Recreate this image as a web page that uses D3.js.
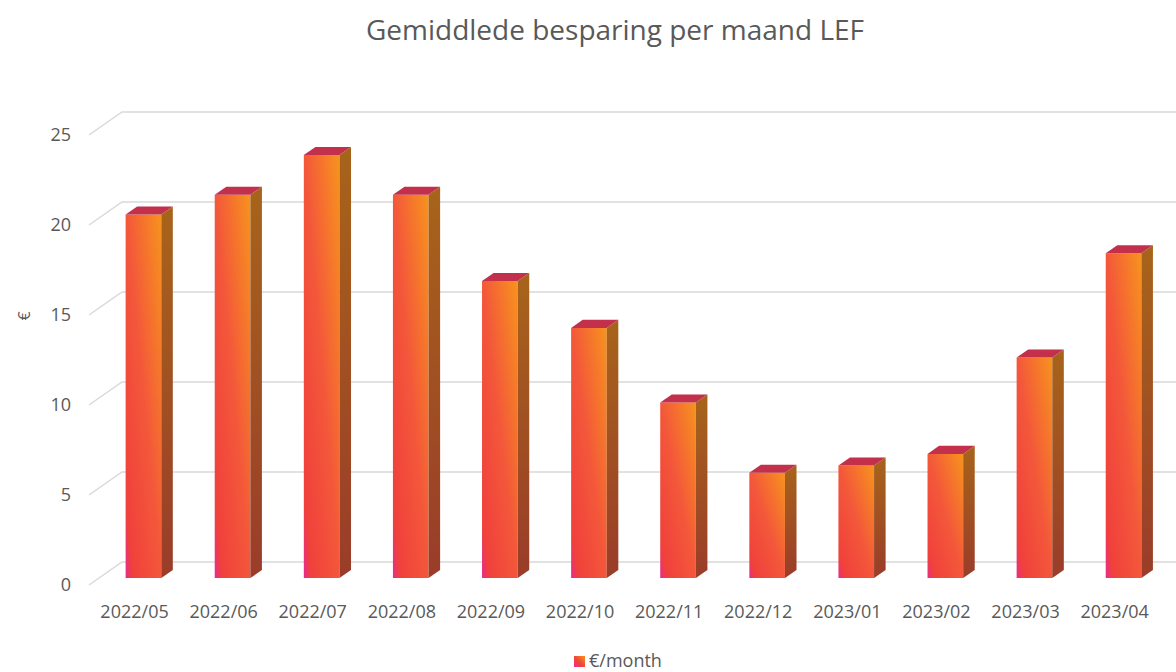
<!DOCTYPE html>
<html>
<head>
<meta charset="utf-8">
<script src="https://cdn.jsdelivr.net/npm/d3@7"></script>
<style>
  body { margin: 0; background: #fff; }
  text { font-family: "Open Sans", "Noto Sans", sans-serif; fill: #595959; }
</style>
</head>
<body>
<div id="my_dataviz"></div>
<script>
// data
const months = ["2022/05", "2022/06", "2022/07", "2022/08", "2022/09", "2022/10",
                "2022/11", "2022/12", "2023/01", "2023/02", "2023/03", "2023/04"];
const savings = [20.2, 21.3, 23.5, 21.3, 16.5, 13.9, 9.75, 5.85, 6.25, 6.9, 12.25, 18.05];
const yTicks = [0, 5, 10, 15, 20, 25];
const seriesName = "€/month";
const title = "Gemiddlede besparing per maand LEF";

const W = 1176, H = 672;
// depth of the 3d box (front -> back wall)
const DX = 33, DY = -23;
// bars sit between these depth fractions
const barFront = 0.3, barBack = 0.65;

const svg = d3.select("#my_dataviz")
    .append("svg")
    .attr("width", W)
    .attr("height", H);

// scales, measured on the front plane
const x = d3.scaleBand()
    .domain(months)
    .range([89, 89 + 12 * 89.1])
    .paddingInner(0.6)
    .paddingOuter(0.3);

const y = d3.scaleLinear()
    .domain([0, 25])
    .range([585, 135]);

// project a front-plane point to depth t (0 = front, 1 = back wall)
function P(px, v, t) {
    return [px + t * DX, y(v) + t * DY];
}

// gradients
const defs = svg.append("defs");
const gFront = defs.append("linearGradient")
    .attr("id", "front")
    .attr("x1", 0).attr("y1", 1).attr("x2", 1).attr("y2", 0);
gFront.append("stop").attr("offset", 0).attr("stop-color", "#e82a90");
gFront.append("stop").attr("offset", 0.1).attr("stop-color", "#f0403c");
gFront.append("stop").attr("offset", 0.5).attr("stop-color", "#f3573a");
gFront.append("stop").attr("offset", 1).attr("stop-color", "#f7931e");

const gSide = defs.append("linearGradient")
    .attr("id", "side")
    .attr("x1", 0).attr("y1", 0).attr("x2", 0).attr("y2", 1);
gSide.append("stop").attr("offset", 0).attr("stop-color", "#a7641a");
gSide.append("stop").attr("offset", 1).attr("stop-color", "#9a3c2a");

const gLegend = defs.append("linearGradient")
    .attr("id", "legendGrad")
    .attr("x1", 0).attr("y1", 1).attr("x2", 1).attr("y2", 0);
gLegend.append("stop").attr("offset", 0).attr("stop-color", "#ea2f8e");
gLegend.append("stop").attr("offset", 0.45).attr("stop-color", "#f0443a");
gLegend.append("stop").attr("offset", 1).attr("stop-color", "#f7931e");

// title
svg.append("text")
    .attr("x", 615)
    .attr("y", 40)
    .attr("text-anchor", "middle")
    .style("font-size", "28px")
    .text(title);

// gridlines: diagonal on the left, horizontal on the back wall
const x0 = x.range()[0], x1 = x.range()[1];
const grid = svg.append("g")
    .attr("stroke", "#d9d9d9")
    .attr("stroke-width", 1.5)
    .attr("fill", "none");

grid.selectAll("path")
    .data(yTicks)
    .join("path")
    .attr("d", d => {
        const a = P(x0, d, 0), b = P(x0, d, 1), c = P(x1, d, 1);
        return d3.line()([a, b, c]);
    });

// y tick labels
svg.append("g")
    .selectAll("text")
    .data(yTicks)
    .join("text")
    .attr("x", 71)
    .attr("y", d => y(d))
    .attr("dy", "0.35em")
    .attr("text-anchor", "end")
    .style("font-size", "18px")
    .text(d => d);

// y axis title
svg.append("text")
    .attr("transform", "translate(24,316) rotate(-90)")
    .attr("text-anchor", "middle")
    .attr("dy", "0.35em")
    .style("font-size", "16px")
    .text("€");

// bars
const bars = svg.append("g")
    .selectAll("g")
    .data(months.map((m, i) => ({m: m, v: savings[i]})))
    .join("g");

bars.append("path")
    .attr("fill", "url(#front)")
    .attr("d", d => {
        const l = x(d.m), r = l + x.bandwidth();
        return d3.line()([P(l, 0, barFront), P(l, d.v, barFront), P(r, d.v, barFront), P(r, 0, barFront)]) + "Z";
    });

bars.append("path")
    .attr("fill", "url(#side)")
    .attr("d", d => {
        const r = x(d.m) + x.bandwidth();
        return d3.line()([P(r, 0, barFront), P(r, d.v, barFront), P(r, d.v, barBack), P(r, 0, barBack)]) + "Z";
    });

bars.append("path")
    .attr("fill", "#c2304c")
    .attr("d", d => {
        const l = x(d.m), r = l + x.bandwidth();
        return d3.line()([P(l, d.v, barFront), P(r, d.v, barFront), P(r, d.v, barBack), P(l, d.v, barBack)]) + "Z";
    });

// category labels
svg.append("g")
    .selectAll("text")
    .data(months)
    .join("text")
    .attr("x", d => x(d) + x.bandwidth() / 2 + 1)
    .attr("y", 618)
    .attr("text-anchor", "middle")
    .style("font-size", "18px")
    .text(d => d);

// legend
svg.append("rect")
    .attr("x", 574)
    .attr("y", 656)
    .attr("width", 11)
    .attr("height", 11)
    .attr("fill", "url(#legendGrad)");

svg.append("text")
    .attr("x", 589)
    .attr("y", 667)
    .style("font-size", "18px")
    .text(seriesName);
</script>
</body>
</html>
